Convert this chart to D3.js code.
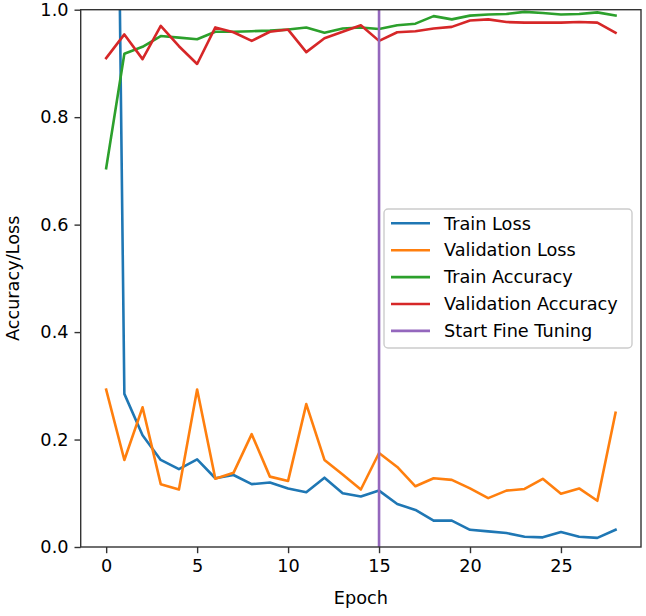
<!DOCTYPE html>
<html>
<head>
    <meta charset="utf-8">
    <title>Accuracy / Loss</title>
    <script src="https://d3js.org/d3.v7.min.js"></script>
    <style>
        body { margin: 0; background: #fff; }
        text { font-family: "DejaVu Sans", sans-serif; fill: #000; }
        .spine { stroke: #333; stroke-width: 1.4; fill: none; }
        .tick line { stroke: #333; stroke-width: 1.4; }
        .tick text { font-size: 17.7px; }
        .series { fill: none; stroke-width: 2.6; stroke-linejoin: round; stroke-linecap: square; }
    </style>
</head>
<body>
    <div id="chart"></div>
    <script>
        const epochs = d3.range(0, 29);

        const trainLoss = [3.2, 0.285, 0.208, 0.162, 0.145, 0.163, 0.128, 0.134, 0.117, 0.120,
            0.109, 0.102, 0.129, 0.100, 0.094, 0.105, 0.080, 0.069, 0.049, 0.049,
            0.032, 0.029, 0.026, 0.019, 0.018, 0.028, 0.019, 0.017, 0.032];
        const valLoss = [0.293, 0.162, 0.260, 0.117, 0.107, 0.293, 0.127, 0.138, 0.210, 0.131,
            0.123, 0.266, 0.162, 0.135, 0.107, 0.175, 0.149, 0.113, 0.128, 0.125,
            0.109, 0.091, 0.105, 0.108, 0.127, 0.099, 0.109, 0.086, 0.250];
        const trainAcc = [0.705, 0.918, 0.931, 0.951, 0.948, 0.945, 0.959, 0.959, 0.960, 0.961,
            0.963, 0.967, 0.957, 0.965, 0.967, 0.964, 0.971, 0.974, 0.988, 0.982,
            0.989, 0.991, 0.992, 0.996, 0.994, 0.991, 0.992, 0.995, 0.989];
        const valAcc = [0.910, 0.954, 0.908, 0.970, 0.932, 0.899, 0.967, 0.958, 0.942, 0.959,
            0.963, 0.921, 0.947, 0.959, 0.971, 0.942, 0.958, 0.960, 0.965, 0.968,
            0.980, 0.982, 0.977, 0.976, 0.976, 0.976, 0.977, 0.976, 0.957];

        const fineTuneEpoch = 15;
        const xTicks = [0, 5, 10, 15, 20, 25];
        const yTicks = [0.0, 0.2, 0.4, 0.6, 0.8, 1.0];

        const series = [
            { name: "Train Loss", values: trainLoss, color: "#1f77b4" },
            { name: "Validation Loss", values: valLoss, color: "#ff7f0e" },
            { name: "Train Accuracy", values: trainAcc, color: "#2ca02c" },
            { name: "Validation Accuracy", values: valAcc, color: "#d62728" }
        ];
        const fineColor = "#9467bd";

        const width = 646, height = 616;
        const plot = { left: 80.7, right: 641, top: 9.7, bottom: 547 };

        const svg = d3.select("#chart")
            .append("svg")
            .attr("width", width)
            .attr("height", height);

        // matplotlib style 5% margin on x
        const x = d3.scaleLinear()
            .domain([-1.4, 29.4])
            .range([plot.left, plot.right]);
        const y = d3.scaleLinear()
            .domain([0, 1])
            .range([plot.bottom, plot.top]);

        svg.append("clipPath").attr("id", "clip")
            .append("rect")
            .attr("x", plot.left).attr("y", plot.top)
            .attr("width", plot.right - plot.left)
            .attr("height", plot.bottom - plot.top);

        const lines = svg.append("g").attr("clip-path", "url(#clip)");
        const line = d3.line().x((d, i) => x(epochs[i])).y(d => y(d));

        series.forEach(s => {
            lines.append("path")
                .attr("class", "series")
                .attr("stroke", s.color)
                .attr("d", line(s.values));
        });

        lines.append("line")
            .attr("class", "series")
            .attr("stroke", fineColor)
            .attr("x1", x(fineTuneEpoch)).attr("x2", x(fineTuneEpoch))
            .attr("y1", plot.top).attr("y2", plot.bottom);

        // axes
        const xAxis = d3.axisBottom(x).tickValues(xTicks).tickSize(6.2).tickPadding(6);
        const yAxis = d3.axisLeft(y).tickValues(yTicks).tickSize(6.2).tickPadding(6)
            .tickFormat(d3.format(".1f"));

        const gx = svg.append("g")
            .attr("transform", `translate(0,${plot.bottom})`)
            .call(xAxis);
        const gy = svg.append("g")
            .attr("transform", `translate(${plot.left},0)`)
            .call(yAxis);
        gx.select(".domain").remove();
        gy.select(".domain").remove();
        gx.selectAll("text").attr("font-family", null).attr("font-size", null);
        gy.selectAll("text").attr("font-family", null).attr("font-size", null);

        svg.append("rect")
            .attr("class", "spine")
            .attr("x", plot.left).attr("y", plot.top)
            .attr("width", plot.right - plot.left)
            .attr("height", plot.bottom - plot.top);

        svg.append("text")
            .attr("x", (plot.left + plot.right) / 2)
            .attr("y", 604)
            .attr("text-anchor", "middle")
            .style("font-size", "17.7px")
            .text("Epoch");

        svg.append("text")
            .attr("transform", `translate(19,${(plot.top + plot.bottom) / 2}) rotate(-90)`)
            .attr("text-anchor", "middle")
            .style("font-size", "17.7px")
            .text("Accuracy/Loss");

        // legend
        const legendItems = series.map(s => ({ name: s.name, color: s.color }))
            .concat([{ name: "Start Fine Tuning", color: fineColor }]);

        const legend = svg.append("g").attr("transform", "translate(384,209)");
        legend.append("rect")
            .attr("width", 248).attr("height", 139)
            .attr("rx", 4)
            .attr("fill", "#fff").attr("fill-opacity", 0.8)
            .attr("stroke", "#ccc").attr("stroke-width", 1.4);

        const rows = legend.selectAll("g.item")
            .data(legendItems)
            .enter()
            .append("g")
            .attr("class", "item")
            .attr("transform", (d, i) => `translate(0,${14.3 + i * 26.9})`);

        rows.append("line")
            .attr("x1", 7).attr("x2", 46)
            .attr("stroke", d => d.color)
            .attr("stroke-width", 2.6);

        rows.append("text")
            .attr("x", 60)
            .attr("dy", "0.35em")
            .style("font-size", "17.7px")
            .text(d => d.name);
    </script>
</body>
</html>
